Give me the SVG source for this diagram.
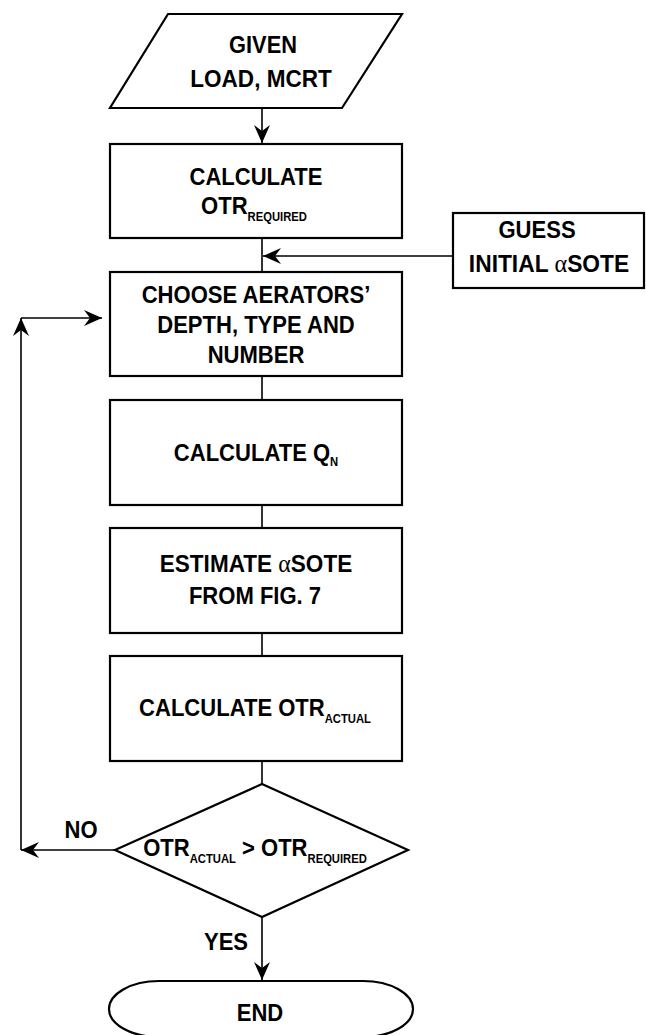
<svg xmlns="http://www.w3.org/2000/svg" width="646" height="1035" viewBox="0 0 646 1035">
<style>
.shape{fill:#fff;stroke:#000;stroke-width:2.2}
.con{fill:none;stroke:#000;stroke-width:1.6}
.t{font-family:"Liberation Sans",Arial,sans-serif;font-weight:bold;font-size:24.5px;fill:#000;text-anchor:middle}
.sub{font-size:12.5px}
.al{font-family:"Liberation Serif","Times New Roman",serif;font-weight:normal;font-size:26px}
</style>
<defs>
<marker id="arr" markerUnits="userSpaceOnUse" markerWidth="18" markerHeight="16" viewBox="0 0 18 16" refX="18" refY="8" orient="auto">
<path d="M0,0 L18,8 L0,16 L6,8 z" fill="#000"/>
</marker>
</defs>
<g id="connectors">
<line class="con" x1="262" y1="108" x2="262" y2="143" marker-end="url(#arr)"/>
<line class="con" x1="262" y1="238" x2="262" y2="272"/>
<line class="con" x1="453" y1="256" x2="263" y2="256" marker-end="url(#arr)"/>
<line class="con" x1="262" y1="376" x2="262" y2="400"/>
<line class="con" x1="262" y1="505" x2="262" y2="528"/>
<line class="con" x1="262" y1="633" x2="262" y2="656"/>
<line class="con" x1="262" y1="761" x2="262" y2="784"/>
<line class="con" x1="115" y1="850" x2="21" y2="850" marker-end="url(#arr)"/>
<line class="con" x1="21" y1="850" x2="21" y2="318" marker-end="url(#arr)"/>
<line class="con" x1="21" y1="318" x2="102" y2="318" marker-end="url(#arr)"/>
<line class="con" x1="262" y1="917" x2="262" y2="980" marker-end="url(#arr)"/>
</g>
<g id="given">
<polygon class="shape" points="168,14 402,14 342,108 110,108"/>
<text class="t" transform="translate(263 0) scale(0.89 1)" x="0" y="53">GIVEN</text>
<text class="t" transform="translate(261 0) scale(0.92 1)" x="0" y="87">LOAD, MCRT</text>
</g>
<g id="calc-otr-req">
<rect class="shape" x="110" y="144" width="292" height="94"/>
<text class="t" transform="translate(256 0) scale(0.9 1)" x="0" y="185">CALCULATE</text>
<text class="t" transform="translate(254 0) scale(0.9 1)" x="0" y="214">OTR<tspan class="sub" dy="7">REQUIRED</tspan></text>
</g>
<g id="guess">
<rect class="shape" x="453" y="213" width="191" height="75"/>
<text class="t" transform="translate(537 0) scale(0.9 1)" x="0" y="238">GUESS</text>
<text class="t" transform="translate(549 0) scale(0.93 1)" x="0" y="272">INITIAL <tspan class="al">α</tspan>SOTE</text>
</g>
<g id="choose">
<rect class="shape" x="110" y="272" width="292" height="104"/>
<text class="t" transform="translate(256 0) scale(0.9 1)" x="0" y="303">CHOOSE AERATORS’</text>
<text class="t" transform="translate(256 0) scale(0.9 1)" x="0" y="333">DEPTH, TYPE AND</text>
<text class="t" transform="translate(256 0) scale(0.9 1)" x="0" y="363">NUMBER</text>
</g>
<g id="calc-qn">
<rect class="shape" x="110" y="400" width="292" height="105"/>
<text class="t" transform="translate(256 0) scale(0.9 1)" x="0" y="461">CALCULATE Q<tspan class="sub" dy="5">N</tspan></text>
</g>
<g id="estimate">
<rect class="shape" x="110" y="528" width="292" height="105"/>
<text class="t" transform="translate(256 0) scale(0.92 1)" x="0" y="572">ESTIMATE <tspan class="al">α</tspan>SOTE</text>
<text class="t" transform="translate(255 0) scale(0.9 1)" x="0" y="604">FROM FIG. 7</text>
</g>
<g id="calc-otr-act">
<rect class="shape" x="110" y="656" width="292" height="105"/>
<text class="t" transform="translate(255 0) scale(0.9 1)" x="0" y="716">CALCULATE OTR<tspan class="sub" dy="7">ACTUAL</tspan></text>
</g>
<g id="decision">
<polygon class="shape" points="262,784 408,850 262,917 115,850"/>
<text class="t" transform="translate(255 0) scale(0.9 1)" x="0" y="856">OTR<tspan class="sub" dy="7">ACTUAL</tspan><tspan dy="-7"> &gt; OTR</tspan><tspan class="sub" dy="7">REQUIRED</tspan></text>
</g>
<g id="labels">
<text class="t" transform="translate(81 0) scale(0.9 1)" x="0" y="838">NO</text>
<text class="t" transform="translate(226 0) scale(0.9 1)" x="0" y="950">YES</text>
</g>
<g id="end">
<path class="shape" d="M159,981 H363 A50,28 0 0 1 363,1037 H159 A50,28 0 0 1 159,981 Z"/>
<text class="t" transform="translate(260 0) scale(0.9 1)" x="0" y="1021">END</text>
</g>
</svg>
